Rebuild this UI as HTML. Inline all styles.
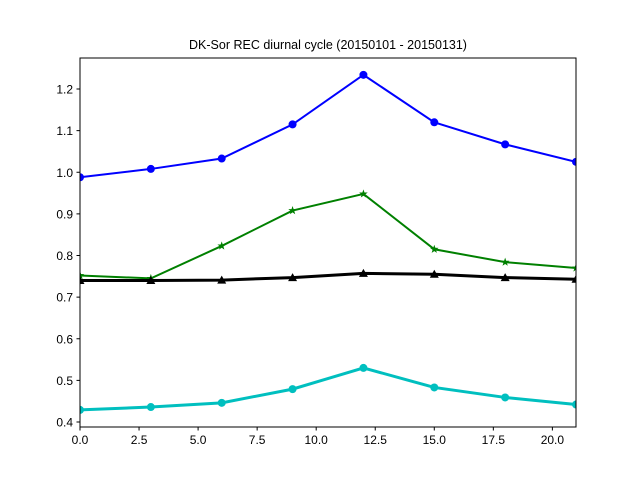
<!DOCTYPE html>
<html><head><meta charset="utf-8"><style>
body{margin:0;background:#fff;font-family:"Liberation Sans","DejaVu Sans",sans-serif}
</style></head><body>
<svg id="chart" width="640" height="480" xmlns="http://www.w3.org/2000/svg">
<rect width="640" height="480" fill="#fff"/>
<text x="328" y="49" text-anchor="middle" font-size="12.5">DK-Sor REC diurnal cycle (20150101 - 20150131)</text>
<g id="plot"></g>
<rect x="80" y="58" width="496" height="369" fill="none" stroke="#000" stroke-width="1"/>
</svg>
<script>
const hours=[0,3,6,9,12,15,18,21];
const blueVals=[0.988,1.008,1.033,1.115,1.234,1.120,1.067,1.025];
const greenVals=[0.752,0.745,0.823,0.908,0.948,0.815,0.784,0.770];
const blackVals=[0.740,0.740,0.741,0.747,0.757,0.755,0.747,0.743];
const cyanVals=[0.429,0.436,0.446,0.479,0.530,0.483,0.459,0.442];
const xTicks=[0,2.5,5,7.5,10,12.5,15,17.5,20];
const xTickLabels=["0.0","2.5","5.0","7.5","10.0","12.5","15.0","17.5","20.0"];
const yTicks=[0.4,0.5,0.6,0.7,0.8,0.9,1.0,1.1,1.2];
const yTickLabels=["0.4","0.5","0.6","0.7","0.8","0.9","1.0","1.1","1.2"];
const NS="http://www.w3.org/2000/svg";
const L=80,R=576,T=58,B=427,xmin=0,xmax=21,ymin=0.388,ymax=1.2745;
const xs=v=>L+(v-xmin)/(xmax-xmin)*(R-L);
const ys=v=>B-(v-ymin)/(ymax-ymin)*(B-T);
const g=document.getElementById('plot');
function mk(t,a){const e=document.createElementNS(NS,t);for(const k in a)e.setAttribute(k,a[k]);return e;}
xTicks.forEach((t,i)=>{const x=xs(t);
 const l=mk('line',{x1:x,x2:x,y1:B,y2:B+3.5,stroke:'#000'});
 
 g.appendChild(l);
 const tx=mk('text',{x:x,y:B+17,'text-anchor':'middle','font-size':'12'});tx.textContent=xTickLabels[i];
 
 g.appendChild(tx);});
yTicks.forEach((t,i)=>{const y=ys(t);
 const l=mk('line',{x1:L-3.5,x2:L,y1:y,y2:y,stroke:'#000'});
 
 g.appendChild(l);
 const tx=mk('text',{x:L-7,y:y+4.5,'text-anchor':'end','font-size':'12'});tx.textContent=yTickLabels[i];
 
 g.appendChild(tx);});
const series=[[blueVals,'#0000ff',2,'circle','blue-series'],[greenVals,'#008000',2,'star','green-series'],[blackVals,'#000',3,'tri','black-series'],[cyanVals,'#00bfbf',3,'circle','cyan-series']];
const clip=mk('clipPath',{id:'c'});clip.appendChild(mk('rect',{x:L,y:T,width:R-L,height:B-T}));g.appendChild(clip);
series.forEach(([vals,col,w,m,name])=>{
 const grp=mk('g',{'clip-path':'url(#c)'});
 
 
 const pts=hours.map((h,i)=>xs(h)+','+ys(vals[i])).join(' ');
 grp.appendChild(mk('polyline',{points:pts,fill:'none',stroke:col,'stroke-width':w}));
 hours.forEach((h,i)=>{const x=xs(h),y=ys(vals[i]);let e;
  if(m==='circle')e=mk('circle',{cx:x,cy:y,r:4,fill:col});
  else if(m==='tri')e=mk('polygon',{points:`${x},${y-4.5} ${x-4.5},${y+3.5} ${x+4.5},${y+3.5}`,fill:col});
  else{let p=[];for(let k=0;k<10;k++){const r=k%2?1.8:4.5,a=-Math.PI/2+k*Math.PI/5;p.push((x+r*Math.cos(a))+','+(y+r*Math.sin(a)));}e=mk('polygon',{points:p.join(' '),fill:col});}
  
  
  grp.appendChild(e);});
 g.appendChild(grp);});
</script>
</body></html>
